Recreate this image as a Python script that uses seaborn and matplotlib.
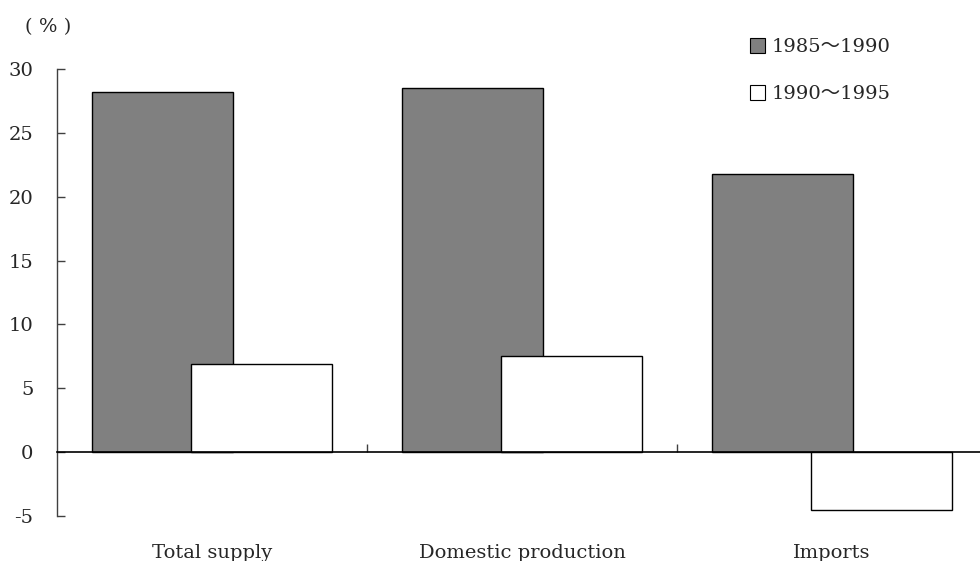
import matplotlib
matplotlib.use("Agg")
import matplotlib.pyplot as plt
from matplotlib.patches import Patch
import numpy as np
import seaborn as sns

categories = ["Total supply", "Domestic production", "Imports"]
period_labels = ["1985～1990", "1990～1995"]
growth_1985_1990 = [28.2, 28.5, 21.8]
growth_1990_1995 = [6.9, 7.5, -4.5]
y_ticks = [-5, 0, 5, 10, 15, 20, 25, 30]

sns.set_theme(style="white")
plt.rcParams["font.family"] = ["DejaVu Serif", "Noto Sans CJK JP"]
plt.rcParams["font.size"] = 14

fig = plt.figure(figsize=(9.8, 5.61), dpi=100)
ax = fig.add_axes([57 / 980, 1 - 516 / 561, 1 - 57 / 980, (516 - 69) / 561])

idx = np.arange(len(categories))
bar_width = 0.455
shift = 0.16

sns.barplot(x=idx - shift, y=growth_1985_1990, native_scale=True, width=bar_width,
            color="#808080", saturation=1, edgecolor="black", linewidth=1.0, ax=ax)
sns.barplot(x=idx + shift, y=growth_1990_1995, native_scale=True, width=bar_width,
            color="white", saturation=1, edgecolor="black", linewidth=1.0, ax=ax)

ax.set_xlim(-0.5, -0.5 + 923 / 310)
ax.set_ylim(-5, 30)
ax.set_yticks(y_ticks)
ax.set_yticklabels([str(t) for t in y_ticks])

# spines: left axis in dark grey, bottom axis runs along zero
for side in ("top", "right"):
    ax.spines[side].set_visible(False)
ax.spines["left"].set_color("#404040")
ax.spines["left"].set_linewidth(1.0)
ax.spines["bottom"].set_position(("data", 0))
ax.spines["bottom"].set_color("black")
ax.spines["bottom"].set_linewidth(1.2)

ax.tick_params(axis="y", direction="in", length=6, width=1.0, color="#404040",
               pad=17, labelsize=14, left=True)
ax.set_xticks(idx)
ax.set_xticklabels(categories)
ax.set_xticks(idx[:-1] + 0.5, minor=True)
ax.tick_params(axis="x", which="major", length=0, pad=66, labelsize=14)
ax.tick_params(axis="x", which="minor", direction="in", length=6, width=1.0,
               color="#404040", bottom=True)
ax.set_xlabel("")
ax.set_ylabel("")

fig.text(25 / 980, 1 - 27 / 561, "( % )", fontsize=14, va="center", ha="left")

handles = [Patch(facecolor="#808080", edgecolor="black", linewidth=0.8),
           Patch(facecolor="white", edgecolor="black", linewidth=0.8)]
fig.legend(handles, period_labels, loc="upper left",
           bbox_to_anchor=(742 / 980, 1 - 30 / 561), frameon=False,
           handlelength=0.8, handleheight=0.8, handletextpad=0.3,
           labelspacing=1.5, fontsize=14, borderaxespad=0)

fig.savefig("out.png", dpi=100)
